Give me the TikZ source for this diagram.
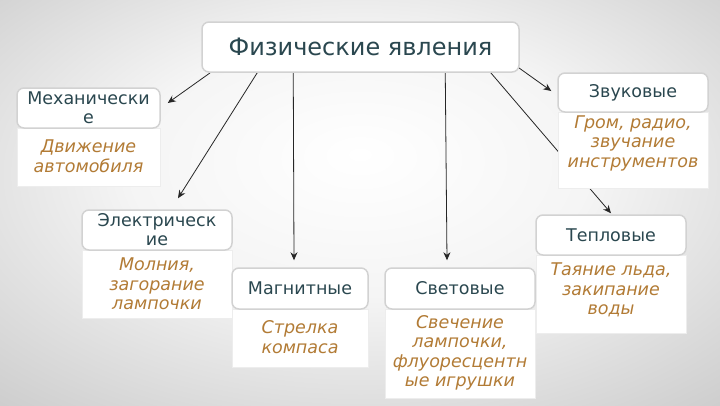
\documentclass[tikz,border=0pt]{standalone}
\usepackage{fontspec}
\setmainfont{DejaVu Sans}
\newfontfamily\hdrfam{DejaVu Sans}
\newfontfamily\titlefam{DejaVu Sans}
\usetikzlibrary{arrows.meta,calc}
\definecolor{hdr}{HTML}{2A474F}
\definecolor{ex}{HTML}{B27B35}
\definecolor{frame}{HTML}{D2D2D2}
\definecolor{arrowc}{HTML}{262626}
\pgfdeclareradialshading{bgshade}{\pgfpoint{0bp}{6bp}}{color(0bp)=(white); color(16bp)=(white!96!black); color(38bp)=(white!80!black); color(60bp)=(white!70!black)}
\pgfdeclarelayer{bglayer}
\pgfdeclarelayer{arrlayer}
\pgfsetlayers{bglayer,arrlayer,main}
\newcommand{\myhdrfont}{\hdrfam\fontsize{17.5}{19}\selectfont}
\newcommand{\myexfont}{\hdrfam\itshape\fontsize{17.5}{19.5}\selectfont}
\newcommand{\mytitlefont}{\titlefam\fontsize{24}{28}\selectfont}
\begin{document}
\begin{tikzpicture}[x=1pt,y=-1pt,
  hdrbox/.style={draw=frame,line width=1.5pt,rounded corners=7pt,fill=white,text=hdr,align=center,inner sep=0pt,font=\myhdrfont},
  exbox/.style={fill=white,draw=white!93!black,line width=0.6pt,inner sep=0pt},
  extext/.style={text=ex,align=center,font=\myexfont,inner sep=0pt},
  arr/.style={draw=arrowc,line width=0.8pt,-{Stealth[length=8pt,width=7pt]}}]
\useasboundingbox (0,0) rectangle (720,405);
\begin{pgfonlayer}{bglayer}
\shade[shading=bgshade] (0,0) rectangle (720,405);
\end{pgfonlayer}

% example areas
\node[exbox,minimum width=143,minimum height=58] (mechx) at (88.5,157) {};
\node[exbox,minimum width=150,minimum height=68] (elecx) at (157,284) {};
\node[exbox,minimum width=136,minimum height=58] (magnx) at (300,338) {};
\node[exbox,minimum width=150,minimum height=89] (lightx) at (460,353.5) {};
\node[exbox,minimum width=150,minimum height=76] (soundx) at (633,150) {};
\node[exbox,minimum width=150,minimum height=78] (thermx) at (611,294) {};

% header boxes
\node[hdrbox,font=\mytitlefont,minimum width=317,minimum height=50] (main) at (360.5,47) {Физические явления};
\node[hdrbox,minimum width=143,minimum height=40] (mech) at (88.5,108) {Механически\\е};
\node[hdrbox,minimum width=150,minimum height=40] (elec) at (157,230) {Электрическ\\ие};
\node[hdrbox,minimum width=136,minimum height=41] (magn) at (300,288.5) {Магнитные};
\node[hdrbox,minimum width=150,minimum height=41] (light) at (460,288.5) {Световые};
\node[hdrbox,minimum width=150,minimum height=39] (sound) at (633,92.5) {Звуковые};
\node[hdrbox,minimum width=150,minimum height=40] (therm) at (611,235) {Тепловые};

% example texts
\node[extext] (mecht) at (88.5,156) {Движение\\автомобиля};
\node[extext] (elect) at (157,284) {Молния,\\загорание\\лампочки};
\node[extext] (magnt) at (300,337) {Стрелка\\компаса};
\node[extext] (lightt) at (460,353) {Свечение\\лампочки,\\флуоресцентн\\ые игрушки};
\node[extext] (soundt) at (633,143) {Гром, радио,\\звучание\\инструментов};
\node[extext] (thermt) at (611,290) {Таяние льда,\\закипание\\воды};

% connector end points
\coordinate (s1) at ($(main.south west)+(9,0)$);
\coordinate (s2) at ($(main.south west)+(56,0)$);
\coordinate (s3) at ($(main.south west)+(92,0)$);
\coordinate (s4) at ($(main.south west)+(244,0)$);
\coordinate (s5) at ($(main.south east)+(-1,-5)$);
\coordinate (s6) at ($(main.south east)+(-29,0)$);
\coordinate (e1) at ($(mech.east)+(7,-5)$);
\coordinate (e2) at ($(elec.north)+(21,-11)$);
\coordinate (e3) at ($(magn.north)+(-6,-7)$);
\coordinate (e4) at ($(light.north)+(-13,-7)$);
\coordinate (e5) at ($(sound.west)+(-6,-1.5)$);
\coordinate (e6) at ($(therm.north)+(0,-1)$);

\begin{pgfonlayer}{arrlayer}
\draw[arr] (s1) -- (e1);
\draw[arr] (s2) -- (e2);
\draw[arr] (s3) -- (e3);
\draw[arr] (s4) -- (e4);
\draw[arr] (s5) -- (e5);
\draw[arr] (s6) -- (e6);
\end{pgfonlayer}
\end{tikzpicture}
\end{document}
